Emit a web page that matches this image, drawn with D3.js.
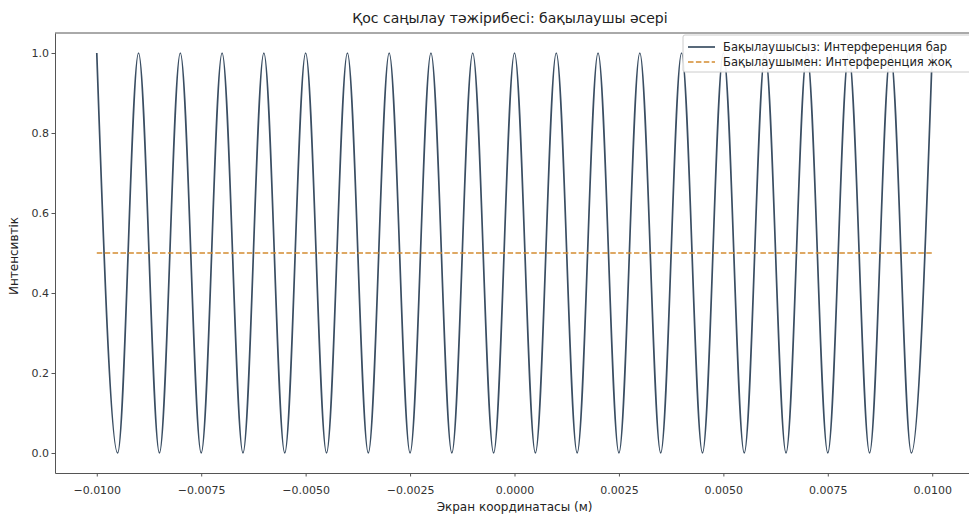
<!DOCTYPE html>
<html><head><meta charset="utf-8">
<script src="https://cdn.jsdelivr.net/npm/d3@7"></script>
<style>body{margin:0;background:#fff}svg{display:block;font-family:"DejaVu Sans",sans-serif}</style>
</head><body><svg id="c" width="969" height="515"></svg>
<script>
const title = "Қос саңылау тәжірибесі: бақылаушы әсері";
const xLabel = "Экран координатасы (м)";
const yLabel = "Интенсивтік";
const seriesNames = ["Бақылаушысыз: Интерференция бар", "Бақылаушымен: Интерференция жоқ"];
// extrema of the fringe pattern (peaks and dark fringes)
const fringeX = [-0.0100,-0.0095,-0.0090,-0.0085,-0.0080,-0.0075,-0.0070,-0.0065,-0.0060,-0.0055,
  -0.0050,-0.0045,-0.0040,-0.0035,-0.0030,-0.0025,-0.0020,-0.0015,-0.0010,-0.0005,
  0.0000,0.0005,0.0010,0.0015,0.0020,0.0025,0.0030,0.0035,0.0040,0.0045,
  0.0050,0.0055,0.0060,0.0065,0.0070,0.0075,0.0080,0.0085,0.0090,0.0095,0.0100];
const fringeI = [1,0,1,0,1,0,1,0,1,0,
  1,0,1,0,1,0,1,0,1,0,
  1,0,1,0,1,0,1,0,1,0,
  1,0,1,0,1,0,1,0,1,0,1];
const flatX = [-0.0100, 0.0100];
const flatI = [0.5, 0.5];
const xTicks = [-0.0100,-0.0075,-0.0050,-0.0025,0.0000,0.0025,0.0050,0.0075,0.0100];
const yTicks = [0.0,0.2,0.4,0.6,0.8,1.0];

const svg = d3.select("#c");
const L = 55, R = 974, T = 33, B = 473;
const x = d3.scaleLinear().domain([-0.011, 0.011]).range([L, R]);
const y = d3.scaleLinear().domain([-0.05, 1.05]).range([B, T]);

svg.append("clipPath").attr("id","cp").append("rect").attr("x",L).attr("y",T).attr("width",R-L).attr("height",B-T);

const lineC = "#3a4e63", dashC = "#d38c30";
svg.append("path").attr("clip-path","url(#cp)")
  .datum(fringeX.map((v,i)=>[v,fringeI[i]]))
  .attr("d", d3.line().x(d=>x(d[0])).y(d=>y(d[1])).curve(d3.curveMonotoneX)).attr("fill","none")
  .attr("stroke",lineC).attr("stroke-width",1.7);
svg.append("path").attr("clip-path","url(#cp)")
  .datum(flatX.map((v,i)=>[v,flatI[i]]))
  .attr("d", d3.line().x(d=>x(d[0])).y(d=>y(d[1]))).attr("fill","none")
  .attr("stroke",dashC).attr("stroke-width",1.7).attr("stroke-dasharray","5.5,2.4");

const fmtX = d => d3.format(".4f")(d).replace("-", "−");
const xa = svg.append("g").attr("transform",`translate(0,${B})`)
  .call(d3.axisBottom(x).tickValues(xTicks).tickFormat(fmtX).tickSize(3.5).tickSizeOuter(0));
const ya = svg.append("g").attr("transform",`translate(${L},0)`)
  .call(d3.axisLeft(y).tickValues(yTicks).tickFormat(d3.format(".1f")).tickSize(3.5).tickSizeOuter(0));
[xa, ya].forEach(a => {
  a.selectAll("text").attr("font-size",11).attr("fill","#333").attr("font-family","DejaVu Sans");
  a.selectAll("line").attr("stroke","#555");
  a.select(".domain").attr("stroke","#555").attr("stroke-width",1);
});
xa.selectAll("text").attr("y",21).attr("dy",0);
ya.selectAll("text").attr("x",-6).attr("dy","0.35em");
svg.append("line").attr("x1",L).attr("x2",R).attr("y1",T).attr("y2",T).attr("stroke","#555");

svg.append("text").attr("x",510).attr("y",23).attr("text-anchor","middle")
  .attr("font-size",14).attr("fill","#222").text(title);
svg.append("text").attr("x",(L+R)/2).attr("y",511).attr("text-anchor","middle")
  .attr("font-size",12).attr("fill","#222").text(xLabel);
svg.append("text").attr("transform",`translate(18,${256}) rotate(-90)`).attr("text-anchor","middle")
  .attr("font-size",12).attr("fill","#222").text(yLabel);

// legend
const lg = svg.append("g");
lg.append("rect").attr("x",683).attr("y",35).attr("width",300).attr("height",37).attr("rx",2)
  .attr("fill","#fff").attr("fill-opacity",0.92).attr("stroke","#ccc");
const lstyles = [{c:lineC,d:null},{c:dashC,d:"5.5,2.4"}];
seriesNames.forEach((n,i)=>{
  const yy = 47 + i*15;
  lg.append("line").attr("x1",688).attr("x2",715).attr("y1",yy).attr("y2",yy)
    .attr("stroke",lstyles[i].c).attr("stroke-width",1.7).attr("stroke-dasharray",lstyles[i].d);
  lg.append("text").attr("x",723).attr("y",yy+4).attr("font-size",11.5).attr("fill","#222").text(n);
});
</script></body></html>
